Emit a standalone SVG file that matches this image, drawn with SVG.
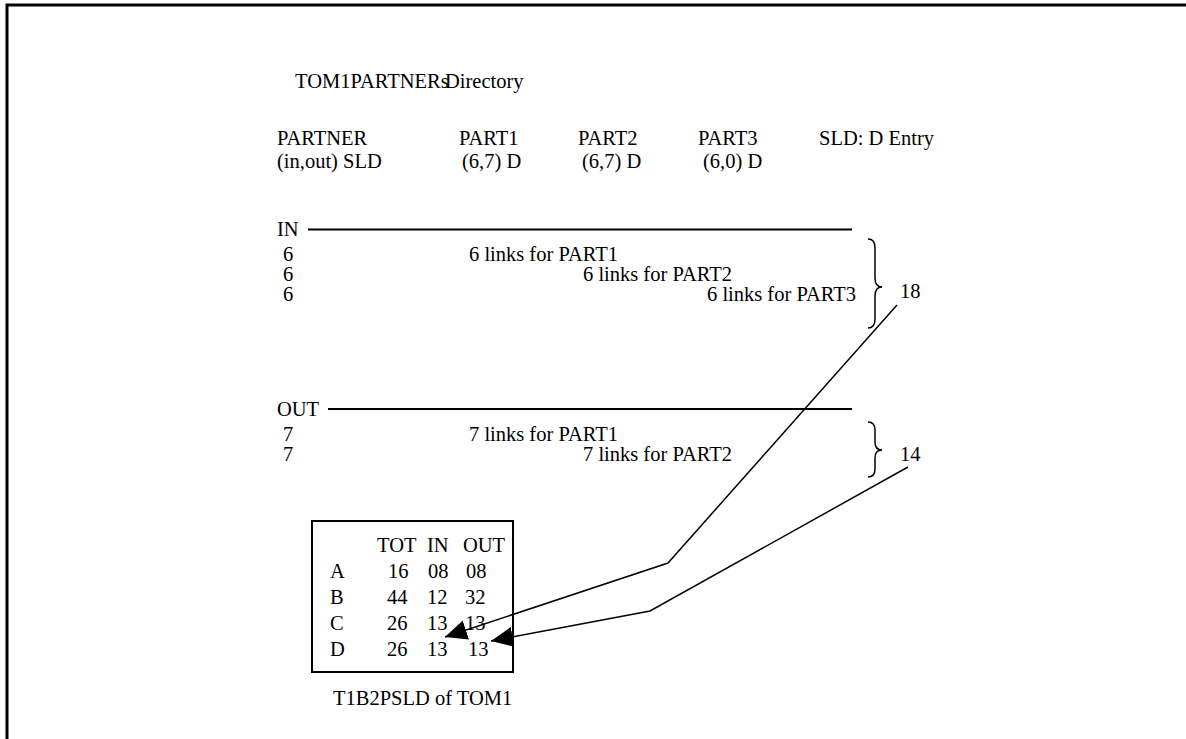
<svg xmlns="http://www.w3.org/2000/svg" width="1186" height="739" viewBox="0 0 1186 739">
<defs>
<style>
text{font-family:"Liberation Serif","Times New Roman",serif;font-size:20.5px;fill:#000}
.ln{stroke:#000;stroke-width:2;fill:none}
.br{stroke:#000;stroke-width:1.5;fill:none}
.cn{stroke:#000;stroke-width:1.5;fill:none}
</style>
<marker id="ah" markerUnits="userSpaceOnUse" markerWidth="24" markerHeight="22" refX="22" refY="10" orient="auto">
<path d="M0,0 L22,10 L0,20 z" fill="#000"/>
</marker>
</defs>
<rect width="1186" height="739" fill="#fff"/>
<path d="M7,739 L7,5 L1186,5" stroke="#000" stroke-width="3" fill="none"/>

<g id="header">
<text x="295" y="88">TOM1PARTNERs<tspan x="445">Directory</tspan></text>
<text x="277" y="145">PARTNER</text>
<text x="277" y="168">(in,out) SLD</text>
<text x="459" y="145">PART1</text>
<text x="462" y="168">(6,7) D</text>
<text x="578" y="145">PART2</text>
<text x="582" y="168">(6,7) D</text>
<text x="698" y="145">PART3</text>
<text x="703" y="168">(6,0) D</text>
<text x="819" y="145">SLD: D Entry</text>
</g>

<g id="in-section">
<text x="277" y="236">IN</text>
<line class="ln" x1="308" y1="229.5" x2="852" y2="229.5"/>
<text x="283" y="261">6</text>
<text x="283" y="281">6</text>
<text x="283" y="301">6</text>
<text x="469" y="261">6 links for PART1</text>
<text x="583" y="281">6 links for PART2</text>
<text x="707" y="301">6 links for PART3</text>
<path class="br" d="M868,239 Q875,239 875,248 L875,278 Q875,287 882,287 Q875,287 875,296 L875,319 Q875,328 868,328"/>
<text x="900" y="298">18</text>
</g>

<g id="out-section">
<text x="277" y="416">OUT</text>
<line class="ln" x1="328" y1="409" x2="852" y2="409"/>
<text x="283" y="441">7</text>
<text x="283" y="461">7</text>
<text x="469" y="441">7 links for PART1</text>
<text x="583" y="461">7 links for PART2</text>
<path class="br" d="M868,422 Q875,422 875,430 L875,442 Q875,450 882,450 Q875,450 875,458 L875,469 Q875,477 868,477"/>
<text x="900" y="461">14</text>
</g>

<g id="table">
<rect x="312" y="521" width="201" height="151" fill="none" stroke="#000" stroke-width="2"/>
<text x="377" y="552">TOT</text>
<text x="427" y="552">IN</text>
<text x="463" y="552">OUT</text>
<text x="330" y="578">A</text>
<text x="388" y="578">16</text>
<text x="428" y="578">08</text>
<text x="466" y="578">08</text>
<text x="330" y="604">B</text>
<text x="387" y="604">44</text>
<text x="427" y="604">12</text>
<text x="465" y="604">32</text>
<text x="330" y="630">C</text>
<text x="387" y="630">26</text>
<text x="427" y="630">13</text>
<text x="465" y="630">13</text>
<text x="330" y="656">D</text>
<text x="387" y="656">26</text>
<text x="427" y="656">13</text>
<text x="468" y="656">13</text>
<text x="333" y="705">T1B2PSLD of TOM1</text>
</g>

<g id="connectors">
<polyline class="cn" points="897,305 668,563 445,637" marker-end="url(#ah)"/>
<polyline class="cn" points="908,467 650,611 491,641" marker-end="url(#ah)"/>
</g>
</svg>
